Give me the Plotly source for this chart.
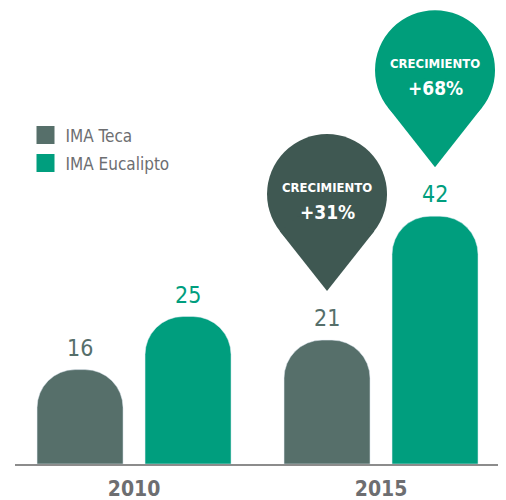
import plotly.graph_objects as go

# ---- data ----
years = ["2010", "2015"]
series_names = ["IMA Teca", "IMA Eucalipto"]
teca = [16, 21]
eucalipto = [25, 42]
growth_label = "CRECIMIENTO"

# ---- style ----
C_TECA = "#566F6A"
C_EUC = "#009E7E"
C_PIN_TECA = "#3F5852"
C_PIN_EUC = "#009E7B"
C_TXT = "#6D6E71"
FONT = "DejaVu Sans Condensed, Liberation Sans Narrow, Arial Narrow, sans-serif"

xpos = list(range(len(years)))
BARGAP = 0.1255
BARGROUPGAP = 0.2037
off = (1 - BARGAP) / 4  # centre offset of each bar within its group

fig = go.Figure()
for name, vals, col in [(series_names[0], teca, C_TECA), (series_names[1], eucalipto, C_EUC)]:
    fig.add_trace(go.Bar(x=xpos, y=vals, name=name, marker=dict(color=col, cornerradius=38),
                         showlegend=False, hoverinfo="skip"))
    # legend entry (bigger square symbol than bar legend)
    fig.add_trace(go.Scatter(x=[None], y=[None], mode="markers", name=name, legendgroup=name,
                             marker=dict(symbol="square", size=16, color=col,
                                         line=dict(color=col, width=2))))

annotations = []
shapes = []
# value labels
for i, x in enumerate(xpos):
    for vals, sign, col in [(teca, -1, C_TECA), (eucalipto, 1, C_EUC)]:
        annotations.append(dict(x=x + sign * off, y=vals[i], xref="x", yref="y",
                                text=str(vals[i]), showarrow=False, yanchor="middle",
                                yshift=22, font=dict(family=FONT, size=23, color=col)))

# growth pins on the last period
last = len(years) - 1
for vals, sign, col in [(teca, -1, C_PIN_TECA), (eucalipto, 1, C_PIN_EUC)]:
    g = round((vals[last] / vals[0] - 1) * 100)
    xa = xpos[last] + sign * off
    ya = vals[last]
    r = 60
    shapes.append(dict(type="circle", xref="x", yref="y", xsizemode="pixel", ysizemode="pixel",
                       xanchor=xa, yanchor=ya, x0=-r, x1=r, y0=146 - r, y1=146 + r,
                       fillcolor=col, line=dict(width=0), layer="above"))
    shapes.append(dict(type="path", xref="x", yref="y", xsizemode="pixel", ysizemode="pixel",
                       xanchor=xa, yanchor=ya,
                       path="M0,49 L47.2,108.9 L0,146 L-47.2,108.9 Z",
                       fillcolor=col, line=dict(width=0), layer="above"))
    annotations.append(dict(x=xa, y=ya, xref="x", yref="y", text="<b>%s</b>" % growth_label,
                            showarrow=False, yanchor="middle", yshift=153,
                            font=dict(family=FONT, size=13, color="white")))
    annotations.append(dict(x=xa, y=ya, xref="x", yref="y", text="<b>+%d%%</b>" % g,
                            showarrow=False, yanchor="middle", yshift=128,
                            font=dict(family=FONT, size=19, color="white")))

fig.update_layout(
    width=506, height=500,
    margin=dict(l=7, r=8, t=0, b=44),
    paper_bgcolor="white", plot_bgcolor="white",
    barmode="group", bargap=BARGAP, bargroupgap=BARGROUPGAP,
    xaxis=dict(range=[-0.482, 1.506], tickvals=xpos, ticktext=years, showgrid=False,
               zeroline=False, showline=True, linecolor="#8C8C8C", linewidth=2,
               ticks="", ticklabelstandoff=5,
               tickfont=dict(family=FONT, size=21, color=C_TXT, weight="bold"),
               fixedrange=True),
    yaxis=dict(range=[0, 77.29], visible=False, showgrid=False, zeroline=False, fixedrange=True),
    legend=dict(x=0.0214, y=0.760, xanchor="left", yanchor="top", tracegroupgap=3,
                font=dict(family=FONT, size=17, color=C_TXT), bgcolor="rgba(0,0,0,0)"),
    annotations=annotations, shapes=shapes,
)

fig.write_html("out.html")
